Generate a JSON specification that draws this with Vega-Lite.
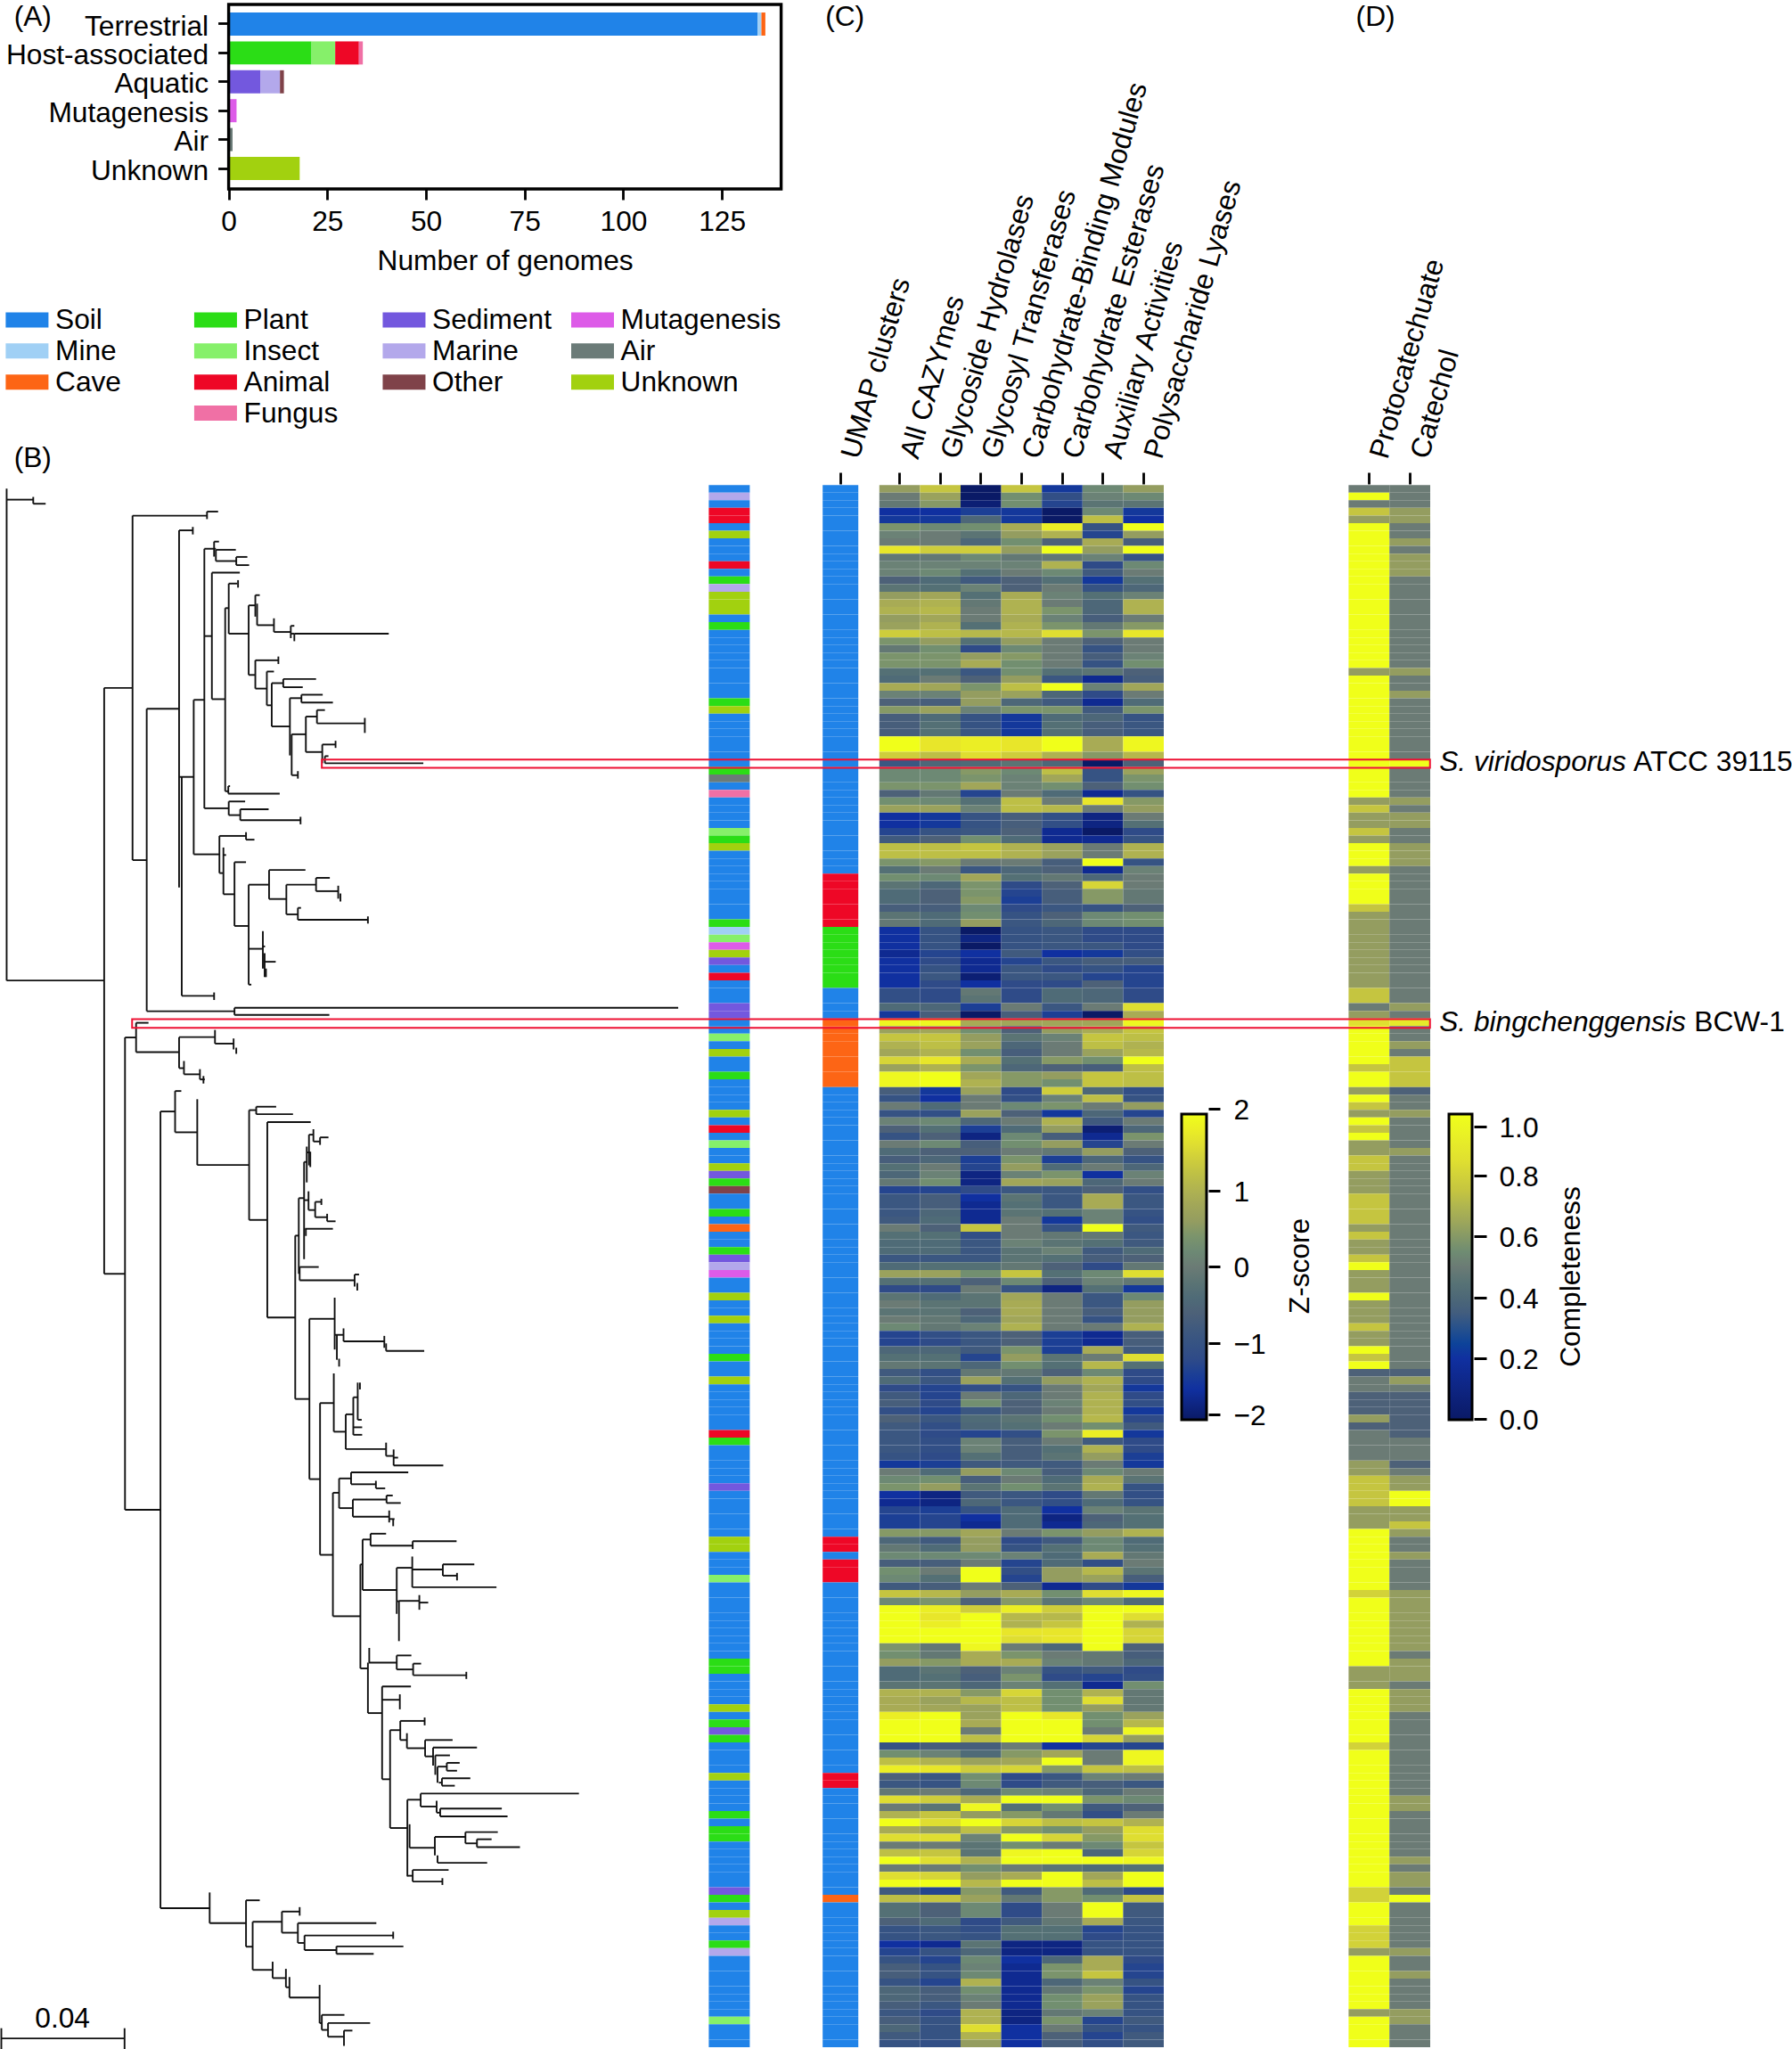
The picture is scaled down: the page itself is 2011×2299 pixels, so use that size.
{"$schema":"https://vega.github.io/schema/vega-lite/v6.json","width":2011,"height":2299,"autosize":{"type":"none"},"padding":0,"background":"white",
"config":{"view":{"stroke":null},"font":"Liberation Sans","axis":{"labelFont":"Liberation Sans","titleFont":"Liberation Sans","labelFontSize":31.7,"titleFontSize":31.7,"titleFontWeight":"normal","labelColor":"black","titleColor":"black","tickColor":"black","domainColor":"black","tickWidth":2.8,"tickSize":12,"grid":false,"labelLimit":1000,"labelOverlap":false,"labelFlush":false,"domain":false}},
"datasets":{
"bars":[{"env":"Terrestrial","src":"Soil","n":134,"k":1},{"env":"Terrestrial","src":"Mine","n":1,"k":2},{"env":"Terrestrial","src":"Cave","n":1,"k":3},{"env":"Host-associated","src":"Plant","n":21,"k":4},{"env":"Host-associated","src":"Insect","n":6,"k":5},{"env":"Host-associated","src":"Animal","n":6,"k":6},{"env":"Host-associated","src":"Fungus","n":1,"k":7},{"env":"Aquatic","src":"Sediment","n":8,"k":8},{"env":"Aquatic","src":"Marine","n":5,"k":9},{"env":"Aquatic","src":"Other","n":1,"k":10},{"env":"Mutagenesis","src":"Mutagenesis","n":2,"k":11},{"env":"Air","src":"Air","n":1,"k":12},{"env":"Unknown","src":"Unknown","n":18,"k":13}],
"key":[{"src":"Soil","col":0,"row":0},{"src":"Mine","col":0,"row":1},{"src":"Cave","col":0,"row":2},{"src":"Plant","col":1,"row":0},{"src":"Insect","col":1,"row":1},{"src":"Animal","col":1,"row":2},{"src":"Fungus","col":1,"row":3},{"src":"Sediment","col":2,"row":0},{"src":"Marine","col":2,"row":1},{"src":"Other","col":2,"row":2},{"src":"Mutagenesis","col":3,"row":0},{"src":"Air","col":3,"row":1},{"src":"Unknown","col":3,"row":2}],
"zt":[{"z":-2},{"z":-1},{"z":0},{"z":1},{"z":2}],
"ct":[{"c":0},{"c":0.2},{"c":0.4},{"c":0.6},{"c":0.8},{"c":1}],
"frame":[{"a":0,"b":1}],
"boxes":[{"x":726,"x2":3226,"y":842,"y2":866},{"x":298,"x2":3226,"y":1603,"y2":1629}],
"notes":[{"t":"(A)","x":74,"y":-1335},{"t":"(B)","x":74,"y":-42},{"t":"(C)","x":1906,"y":-1335},{"t":"(D)","x":3103,"y":-1335},{"t":"0.04","x":141,"y":4535}],
"plain":[{"t":"ATCC 39115","x":3685,"y":850},{"t":"BCW-1","x":3822,"y":1612}],
"ital":[{"t":"S. viridosporus","x":3247,"y":850},{"t":"S. bingchenggensis","x":3247,"y":1612}],
"hs":[{"a":15,"b":75,"y":80},{"a":75,"b":103,"y":92},{"a":15,"b":235,"y":1490},{"a":235,"b":299,"y":632},{"a":299,"b":467,"y":127},{"a":467,"b":492,"y":115},{"a":299,"b":331,"y":1137},{"a":331,"b":404,"y":693},{"a":404,"b":435,"y":170},{"a":404,"b":437,"y":893},{"a":437,"b":461,"y":667},{"a":461,"b":487,"y":224},{"a":483,"b":494,"y":203},{"a":487,"b":532,"y":227},{"a":487,"b":533,"y":260},{"a":533,"b":558,"y":248},{"a":533,"b":562,"y":272},{"a":461,"b":478,"y":480},{"a":478,"b":541,"y":294},{"a":478,"b":508,"y":665},{"a":508,"b":516,"y":398},{"a":516,"b":535,"y":326},{"a":516,"b":561,"y":473},{"a":561,"b":576,"y":390},{"a":576,"b":586,"y":360},{"a":580,"b":618,"y":448},{"a":618,"b":656,"y":468},{"a":656,"b":664,"y":450},{"a":656,"b":664,"y":473},{"a":664,"b":877,"y":473},{"a":561,"b":576,"y":594},{"a":576,"b":628,"y":551},{"a":576,"b":602,"y":634},{"a":602,"b":618,"y":584},{"a":602,"b":613,"y":683},{"a":613,"b":639,"y":618},{"a":639,"b":713,"y":606},{"a":639,"b":683,"y":630},{"a":613,"b":654,"y":745},{"a":654,"b":680,"y":662},{"a":680,"b":728,"y":652},{"a":680,"b":751,"y":675},{"a":658,"b":690,"y":768},{"a":658,"b":672,"y":888},{"a":690,"b":715,"y":716},{"a":715,"b":733,"y":697},{"a":715,"b":823,"y":736},{"a":690,"b":727,"y":820},{"a":727,"b":757,"y":798},{"a":733,"b":741,"y":832},{"a":733,"b":955,"y":853},{"a":508,"b":515,"y":935},{"a":515,"b":519,"y":920},{"a":515,"b":631,"y":942},{"a":461,"b":516,"y":985},{"a":516,"b":553,"y":965},{"a":516,"b":542,"y":1005},{"a":542,"b":606,"y":988},{"a":542,"b":678,"y":1020},{"a":437,"b":495,"y":1120},{"a":495,"b":555,"y":1066},{"a":555,"b":574,"y":1077},{"a":495,"b":503,"y":1175},{"a":504,"b":510,"y":1122},{"a":504,"b":529,"y":1237},{"a":529,"b":555,"y":1143},{"a":529,"b":561,"y":1330},{"a":561,"b":607,"y":1209},{"a":607,"b":689,"y":1166},{"a":607,"b":646,"y":1251},{"a":646,"b":713,"y":1209},{"a":713,"b":744,"y":1189},{"a":713,"b":763,"y":1228},{"a":646,"b":672,"y":1296},{"a":672,"b":679,"y":1277},{"a":672,"b":830,"y":1312},{"a":561,"b":593,"y":1397},{"a":593,"b":598,"y":1390},{"a":595,"b":622,"y":1435},{"a":561,"b":567,"y":1502},{"a":410,"b":483,"y":1535},
{"a":331,"b":529,"y":1580},{"a":529,"b":1530,"y":1570},{"a":529,"b":743,"y":1591},{"a":235,"b":282,"y":2350},{"a":282,"b":307,"y":1657},{"a":307,"b":335,"y":1614},{"a":307,"b":404,"y":1700},{"a":404,"b":485,"y":1656},{"a":485,"b":527,"y":1675},{"a":404,"b":415,"y":1747},{"a":415,"b":451,"y":1765},{"a":451,"b":462,"y":1780},{"a":282,"b":362,"y":3042},{"a":362,"b":395,"y":1874},{"a":395,"b":409,"y":1814},{"a":395,"b":445,"y":1935},{"a":445,"b":562,"y":2031},{"a":562,"b":578,"y":1870},{"a":578,"b":623,"y":1860},{"a":578,"b":661,"y":1882},{"a":562,"b":603,"y":2192},{"a":603,"b":701,"y":1905},{"a":603,"b":666,"y":2478},{"a":666,"b":674,"y":2238},{"a":674,"b":686,"y":2128},{"a":686,"b":693,"y":2022},{"a":697,"b":707,"y":1942},{"a":707,"b":722,"y":1962},{"a":722,"b":741,"y":1950},{"a":692,"b":700,"y":1994},{"a":686,"b":696,"y":2134},{"a":696,"b":711,"y":2163},{"a":711,"b":725,"y":2139},{"a":711,"b":738,"y":2184},{"a":738,"b":757,"y":2196},{"a":688,"b":751,"y":2218},{"a":676,"b":719,"y":2330},{"a":676,"b":800,"y":2369},{"a":800,"b":810,"y":2352},{"a":666,"b":698,"y":2717},{"a":698,"b":755,"y":2482},{"a":755,"b":775,"y":2529},{"a":775,"b":867,"y":2548},{"a":871,"b":957,"y":2576},{"a":698,"b":722,"y":2952},{"a":722,"b":753,"y":2729},{"a":753,"b":780,"y":2813},{"a":780,"b":797,"y":2762},{"a":797,"b":807,"y":2712},{"a":807,"b":816,"y":2778},{"a":797,"b":817,"y":2800},{"a":797,"b":817,"y":2822},{"a":780,"b":871,"y":2864},{"a":871,"b":888,"y":2884},{"a":888,"b":898,"y":2889},{"a":888,"b":1000,"y":2912},{"a":751,"b":765,"y":2992},{"a":765,"b":792,"y":2950},{"a":792,"b":921,"y":2932},{"a":792,"b":848,"y":2967},{"a":848,"b":869,"y":2979},{"a":765,"b":796,"y":3037},{"a":796,"b":872,"y":3012},{"a":872,"b":886,"y":3000},{"a":872,"b":904,"y":3022},{"a":796,"b":878,"y":3062},{"a":878,"b":890,"y":3069},
{"a":722,"b":751,"y":3174},{"a":751,"b":813,"y":3354},{"a":813,"b":818,"y":3202},{"a":818,"b":836,"y":3129},{"a":836,"b":871,"y":3112},{"a":836,"b":931,"y":3147},{"a":931,"b":1030,"y":3134},{"a":818,"b":895,"y":3277},{"a":895,"b":930,"y":3212},{"a":930,"b":999,"y":3217},{"a":999,"b":1070,"y":3202},{"a":999,"b":1031,"y":3235},{"a":930,"b":1120,"y":3269},{"a":895,"b":900,"y":3310},{"a":900,"b":946,"y":3309},{"a":946,"b":966,"y":3314},{"a":813,"b":830,"y":3507},{"a":832,"b":895,"y":3490},{"a":895,"b":928,"y":3469},{"a":895,"b":932,"y":3510},{"a":932,"b":950,"y":3493},{"a":932,"b":1052,"y":3527},{"a":830,"b":862,"y":3638},{"a":862,"b":927,"y":3560},{"a":862,"b":902,"y":3599},{"a":862,"b":880,"y":3832},{"a":880,"b":903,"y":3688},{"a":903,"b":958,"y":3661},{"a":903,"b":918,"y":3717},{"a":918,"b":959,"y":3741},{"a":959,"b":1021,"y":3717},{"a":959,"b":977,"y":3765},{"a":977,"b":1076,"y":3739},{"a":982,"b":1015,"y":3762},{"a":987,"b":1008,"y":3795},{"a":1008,"b":1037,"y":3784},{"a":1008,"b":1031,"y":3807},{"a":990,"b":997,"y":3842},{"a":997,"b":1061,"y":3829},{"a":997,"b":1026,"y":3851},{"a":880,"b":919,"y":3975},{"a":919,"b":949,"y":3892},{"a":949,"b":1306,"y":3874},{"a":949,"b":985,"y":3912},{"a":985,"b":993,"y":3930},{"a":993,"b":1132,"y":3918},{"a":993,"b":1145,"y":3941},{"a":924,"b":981,"y":4033},{"a":981,"b":1050,"y":4001},{"a":1050,"b":1123,"y":3987},{"a":1050,"b":1076,"y":4020},{"a":1076,"b":1109,"y":4008},{"a":1076,"b":1173,"y":4031},{"a":987,"b":1099,"y":4077},{"a":919,"b":931,"y":4115},{"a":931,"b":1012,"y":4098},{"a":931,"b":998,"y":4132},{"a":362,"b":473,"y":4210},{"a":473,"b":555,"y":4254},{"a":555,"b":586,"y":4187},{"a":555,"b":570,"y":4323},{"a":570,"b":636,"y":4250},{"a":636,"b":676,"y":4220},{"a":636,"b":672,"y":4282},{"a":672,"b":849,"y":4254},{"a":672,"b":687,"y":4312},{"a":687,"b":887,"y":4290},{"a":687,"b":759,"y":4333},{"a":759,"b":910,"y":4322},{"a":759,"b":843,"y":4344},{"a":570,"b":615,"y":4391},{"a":615,"b":645,"y":4415},{"a":645,"b":653,"y":4442},{"a":653,"b":721,"y":4472},{"a":721,"b":726,"y":4547},{"a":726,"b":777,"y":4523},{"a":726,"b":740,"y":4567},{"a":740,"b":835,"y":4547},{"a":740,"b":776,"y":4587},{"a":776,"b":795,"y":4569},{"a":3,"b":281,"y":4592}],
"vs":[{"x":15,"c":48,"d":1490},{"x":75,"c":72,"d":92},{"x":235,"c":632,"d":2350},{"x":299,"c":127,"d":1137},{"x":467,"c":115,"d":137},{"x":331,"c":693,"d":1580},{"x":404,"c":170,"d":1217},{"x":435,"c":160,"d":182},{"x":437,"c":667,"d":1120},{"x":410,"c":893,"d":1535},{"x":483,"c":1525,"d":1547},{"x":461,"c":224,"d":985},{"x":483,"c":203,"d":247},{"x":487,"c":227,"d":260},{"x":533,"c":248,"d":272},{"x":478,"c":294,"d":665},{"x":508,"c":398,"d":935},{"x":516,"c":326,"d":473},{"x":537,"c":316,"d":338},{"x":561,"c":390,"d":594},{"x":576,"c":360,"d":423},{"x":580,"c":385,"d":448},{"x":618,"c":428,"d":468},{"x":656,"c":450,"d":486},{"x":664,"c":473,"d":495},{"x":576,"c":551,"d":634},{"x":628,"c":540,"d":562},{"x":602,"c":584,"d":683},{"x":613,"c":618,"d":745},{"x":639,"c":606,"d":630},{"x":654,"c":662,"d":830},{"x":680,"c":652,"d":675},{"x":658,"c":768,"d":888},{"x":672,"c":876,"d":898},{"x":690,"c":716,"d":820},{"x":715,"c":697,"d":736},{"x":823,"c":720,"d":764},{"x":727,"c":798,"d":853},{"x":757,"c":787,"d":808},{"x":733,"c":832,"d":853},{"x":515,"c":920,"d":942},{"x":516,"c":965,"d":1005},{"x":542,"c":988,"d":1020},{"x":678,"c":1010,"d":1032},{"x":495,"c":1066,"d":1175},{"x":555,"c":1055,"d":1077},{"x":504,"c":1100,"d":1237},{"x":529,"c":1143,"d":1330},{"x":561,"c":1209,"d":1502},{"x":607,"c":1166,"d":1251},{"x":646,"c":1209,"d":1296},{"x":713,"c":1189,"d":1228},{"x":763,"c":1212,"d":1250},{"x":768,"c":1235,"d":1258},{"x":672,"c":1277,"d":1312},{"x":830,"c":1302,"d":1323},{"x":593,"c":1345,"d":1455},{"x":597,"c":1410,"d":1480},{"x":600,"c":1455,"d":1480},
{"x":529,"c":1570,"d":1591},{"x":282,"c":1657,"d":3042},{"x":307,"c":1614,"d":1700},{"x":404,"c":1656,"d":1747},{"x":485,"c":1635,"d":1675},{"x":527,"c":1660,"d":1692},{"x":533,"c":1687,"d":1705},{"x":415,"c":1726,"d":1765},{"x":451,"c":1750,"d":1780},{"x":459,"c":1770,"d":1792},{"x":362,"c":1874,"d":4210},{"x":395,"c":1814,"d":1935},{"x":445,"c":1838,"d":2031},{"x":562,"c":1870,"d":2192},{"x":578,"c":1860,"d":1882},{"x":603,"c":1905,"d":2478},{"x":666,"c":2238,"d":2717},{"x":674,"c":2128,"d":2350},{"x":686,"c":2022,"d":2307},{"x":692,"c":1977,"d":2082},{"x":697,"c":1942,"d":2032},{"x":707,"c":1926,"d":1962},{"x":722,"c":1950,"d":1972},{"x":700,"c":1992,"d":2037},{"x":696,"c":2108,"d":2163},{"x":711,"c":2139,"d":2184},{"x":725,"c":2130,"d":2148},{"x":738,"c":2174,"d":2196},{"x":690,"c":2218,"d":2239},{"x":676,"c":2330,"d":2369},{"x":800,"c":2352,"d":2387},{"x":806,"c":2377,"d":2399},{"x":698,"c":2482,"d":2952},{"x":755,"c":2420,"d":2572},{"x":760,"c":2529,"d":2602},{"x":765,"c":2599,"d":2622},{"x":775,"c":2510,"d":2548},{"x":867,"c":2532,"d":2567},{"x":871,"c":2554,"d":2576},{"x":722,"c":2729,"d":3174},{"x":753,"c":2642,"d":2813},{"x":780,"c":2762,"d":2864},{"x":797,"c":2712,"d":2822},{"x":807,"c":2669,"d":2778},{"x":812,"c":2669,"d":2689},{"x":871,"c":2845,"d":2884},{"x":888,"c":2865,"d":2912},{"x":751,"c":2992,"d":3354},{"x":765,"c":2950,"d":3037},{"x":792,"c":2932,"d":2967},{"x":848,"c":2957,"d":2979},{"x":796,"c":3012,"d":3062},{"x":872,"c":3000,"d":3022},{"x":878,"c":3044,"d":3079},{"x":887,"c":3069,"d":3090},
{"x":813,"c":3202,"d":3507},{"x":818,"c":3129,"d":3277},{"x":836,"c":3112,"d":3147},{"x":931,"c":3134,"d":3157},{"x":895,"c":3212,"d":3347},{"x":930,"c":3179,"d":3269},{"x":999,"c":3202,"d":3235},{"x":1031,"c":3227,"d":3249},{"x":900,"c":3309,"d":3427},{"x":946,"c":3292,"d":3335},{"x":830,"c":3490,"d":3638},{"x":833,"c":3447,"d":3490},{"x":895,"c":3469,"d":3510},{"x":932,"c":3493,"d":3527},{"x":1052,"c":3517,"d":3538},{"x":862,"c":3560,"d":3832},{"x":902,"c":3583,"d":3627},{"x":880,"c":3688,"d":3975},{"x":903,"c":3661,"d":3717},{"x":958,"c":3651,"d":3674},{"x":918,"c":3697,"d":3741},{"x":959,"c":3717,"d":3765},{"x":977,"c":3739,"d":3792},{"x":982,"c":3762,"d":3819},{"x":987,"c":3795,"d":3842},{"x":1008,"c":3784,"d":3807},{"x":997,"c":3829,"d":3851},{"x":919,"c":3892,"d":4117},{"x":949,"c":3874,"d":3912},{"x":985,"c":3895,"d":3930},{"x":993,"c":3918,"d":3941},{"x":924,"c":3964,"d":4033},{"x":981,"c":4001,"d":4055},{"x":1050,"c":3987,"d":4020},{"x":1076,"c":4008,"d":4031},{"x":987,"c":4055,"d":4077},{"x":931,"c":4098,"d":4132},{"x":998,"c":4122,"d":4142},{"x":473,"c":4164,"d":4254},{"x":555,"c":4187,"d":4323},{"x":570,"c":4250,"d":4391},{"x":636,"c":4220,"d":4282},{"x":676,"c":4207,"d":4232},{"x":672,"c":4254,"d":4312},{"x":687,"c":4290,"d":4333},{"x":887,"c":4279,"d":4300},{"x":759,"c":4322,"d":4344},{"x":615,"c":4367,"d":4415},{"x":645,"c":4388,"d":4442},{"x":653,"c":4412,"d":4472},{"x":721,"c":4435,"d":4547},{"x":726,"c":4523,"d":4567},{"x":740,"c":4547,"d":4587},{"x":776,"c":4569,"d":4614},{"x":3,"c":4562,"d":4625},{"x":281,"c":4562,"d":4625}],
"rows":[
{"r":0,"s":"Soil","u":"Soil","a":0.6,"b":1.3,"c":-2,"d":1.3,"e":-1.5,"f":0.2,"g":0.6,"p":0.5,"q":0.5},
{"r":1,"s":"Marine","u":"Soil","a":0,"b":0.7,"c":-2,"d":0.3,"e":-1.1,"f":0.1,"g":0.2,"p":1,"q":0.5},
{"r":2,"s":"Soil","u":"Soil","a":-0.1,"b":0.5,"c":-1.9,"d":0.3,"e":-1.3,"f":-0.2,"g":-0.2,"p":0.5,"q":0.5},
{"r":3,"s":"Animal","u":"Soil","a":-1.6,"b":-1.6,"c":-1.4,"d":-1.5,"e":-2,"f":0.2,"g":-1.5,"p":0.75,"q":0.62},
{"r":4,"s":"Animal","u":"Soil","a":-1.5,"b":-1.5,"c":-0.5,"d":-1.5,"e":-2,"f":1.2,"g":-1.6,"p":0.62,"q":0.62},
{"r":5,"s":"Soil","u":"Soil","a":0.4,"b":0.2,"c":0.3,"d":0.9,"e":1.8,"f":-1,"g":2,"p":1,"q":0.5},
{"r":6,"s":"Unknown","u":"Soil","a":0.1,"b":0,"c":-0.2,"d":0.6,"e":1,"f":-1.3,"g":0.6,"p":1,"q":0.5},
{"r":7,"s":"Soil","u":"Soil","a":0,"b":0,"c":-0.5,"d":0.3,"e":-0.6,"f":0.9,"g":-0.7,"p":1,"q":0.62},
{"r":8,"s":"Soil","u":"Soil","a":1.7,"b":1.4,"c":1.4,"d":0.6,"e":2,"f":0.6,"g":2,"p":1,"q":0.5},
{"r":9,"s":"Soil","u":"Soil","a":-0.1,"b":-0.1,"c":0.2,"d":-0.1,"e":-0.1,"f":0.1,"g":-1,"p":1,"q":0.62},
{"r":10,"s":"Animal","u":"Soil","a":0.1,"b":0.1,"c":0.1,"d":0.1,"e":1,"f":-1.2,"g":0.2,"p":1,"q":0.62},
{"r":11,"s":"Soil","u":"Soil","a":0.1,"b":0.2,"c":-0.3,"d":0,"e":0.2,"f":-0.8,"g":0,"p":1,"q":0.62},
{"r":12,"s":"Plant","u":"Soil","a":-0.6,"b":-0.4,"c":-0.8,"d":-0.6,"e":-0.3,"f":-1.5,"g":-0.3,"p":1,"q":0.5},
{"r":13,"s":"Marine","u":"Soil","a":-0.2,"b":-0.3,"c":0.1,"d":-0.6,"e":0,"f":-1,"g":-0.5,"p":1,"q":0.5},
{"r":14,"s":"Unknown","u":"Soil","a":0.6,"b":0.8,"c":-0.3,"d":0.9,"e":0.1,"f":-0.3,"g":0.1,"p":1,"q":0.5},
{"r":15,"s":"Unknown","u":"Soil","a":0.9,"b":1,"c":-0.1,"d":1,"e":0,"f":-0.5,"g":1,"p":1,"q":0.5},
{"r":16,"s":"Unknown","u":"Soil","a":1,"b":1.1,"c":0,"d":1,"e":0.4,"f":-0.5,"g":1,"p":1,"q":0.5},
{"r":17,"s":"Soil","u":"Soil","a":0.6,"b":0.8,"c":0,"d":0.9,"e":0.1,"f":-0.7,"g":0,"p":1,"q":0.5},
{"r":18,"s":"Plant","u":"Soil","a":0.7,"b":1,"c":-0.3,"d":1,"e":0.4,"f":-0.1,"g":0.5,"p":1,"q":0.5},
{"r":19,"s":"Soil","u":"Soil","a":1.4,"b":1.2,"c":1.1,"d":1.1,"e":1.6,"f":0.4,"g":1.7,"p":1,"q":0.5},
{"r":20,"s":"Soil","u":"Soil","a":0.4,"b":0.6,"c":-0.3,"d":0.6,"e":0,"f":-0.6,"g":0,"p":1,"q":0.5},
{"r":21,"s":"Soil","u":"Soil","a":-0.1,"b":0.3,"c":-1.2,"d":0.2,"e":0,"f":-1,"g":0,"p":1,"q":0.5},
{"r":22,"s":"Soil","u":"Soil","a":0.4,"b":0.4,"c":0.6,"d":0.5,"e":0,"f":-0.7,"g":0.1,"p":1,"q":0.5},
{"r":23,"s":"Soil","u":"Soil","a":0.4,"b":0.4,"c":0.9,"d":0.3,"e":0,"f":-1,"g":0.3,"p":1,"q":0.5},
{"r":24,"s":"Soil","u":"Soil","a":-0.3,"b":-0.3,"c":-0.9,"d":0.3,"e":-0.3,"f":-0.2,"g":-0.6,"p":0.62,"q":0.62},
{"r":25,"s":"Soil","u":"Soil","a":-0.4,"b":0,"c":-0.6,"d":0.6,"e":-0.9,"f":-1.7,"g":-0.7,"p":1,"q":0.5},
{"r":26,"s":"Soil","u":"Soil","a":0.9,"b":0.8,"c":0.4,"d":1.2,"e":2,"f":0.1,"g":0.8,"p":1,"q":0.5},
{"r":27,"s":"Soil","u":"Soil","a":0.1,"b":0.1,"c":0.6,"d":0.7,"e":-0.5,"f":-1.2,"g":0,"p":1,"q":0.62},
{"r":28,"s":"Plant","u":"Soil","a":-0.6,"b":-0.7,"c":0.6,"d":-0.5,"e":-0.8,"f":-1.7,"g":-0.4,"p":1,"q":0.5},
{"r":29,"s":"Unknown","u":"Soil","a":0.5,"b":0.7,"c":0.1,"d":0.4,"e":0.4,"f":-0.8,"g":0.4,"p":1,"q":0.5},
{"r":30,"s":"Soil","u":"Soil","a":-0.7,"b":-0.4,"c":-1,"d":-1.5,"e":-0.4,"f":-0.5,"g":-1,"p":1,"q":0.5},
{"r":31,"s":"Soil","u":"Soil","a":-0.7,"b":-0.3,"c":-1,"d":-1.5,"e":-0.3,"f":-0.7,"g":-0.9,"p":1,"q":0.5},
{"r":32,"s":"Soil","u":"Soil","a":-0.7,"b":-0.3,"c":-0.9,"d":-1.5,"e":-0.3,"f":-0.7,"g":-0.9,"p":1,"q":0.5},
{"r":33,"s":"Soil","u":"Soil","a":2,"b":1.7,"c":1.8,"d":1.7,"e":2,"f":0.9,"g":1.9,"p":1,"q":0.5},
{"r":34,"s":"Soil","u":"Soil","a":2,"b":1.7,"c":1.8,"d":1.7,"e":2,"f":0.9,"g":1.9,"p":1,"q":0.5},
{"r":35,"s":"Soil","u":"Soil","a":1.4,"b":1.2,"c":1.6,"d":1.4,"e":1,"f":0.5,"g":1.1,"p":1,"q":0.5},
{"r":36,"s":"Soil","u":"Soil","a":-0.9,"b":-0.5,"c":-0.4,"d":-0.2,"e":-0.5,"f":-2,"g":-0.6,"p":1,"q":1},
{"r":37,"s":"Plant","u":"Soil","a":0.2,"b":0.2,"c":0.5,"d":0.2,"e":1.2,"f":-1,"g":0.7,"p":1,"q":0.5},
{"r":38,"s":"Air","u":"Soil","a":0.2,"b":0.2,"c":0.4,"d":0.1,"e":0.8,"f":-1,"g":0.4,"p":1,"q":0.5},
{"r":39,"s":"Soil","u":"Soil","a":0.4,"b":0.4,"c":0.8,"d":0.1,"e":0.3,"f":-0.6,"g":0.3,"p":1,"q":0.5},
{"r":40,"s":"Fungus","u":"Soil","a":-0.6,"b":-0.1,"c":-1.3,"d":0,"e":-0.4,"f":-1.7,"g":-1,"p":1,"q":0.5},
{"r":41,"s":"Soil","u":"Soil","a":0.3,"b":0.2,"c":-0.3,"d":1.2,"e":0,"f":1.7,"g":0.5,"p":0.62,"q":0.62},
{"r":42,"s":"Soil","u":"Soil","a":0.7,"b":0.7,"c":0.1,"d":1.2,"e":1.1,"f":0,"g":0.6,"p":0.75,"q":0.5},
{"r":43,"s":"Soil","u":"Soil","a":-1.6,"b":-1.5,"c":-1,"d":-0.7,"e":-1.1,"f":-1.8,"g":0,"p":0.62,"q":0.62},
{"r":44,"s":"Soil","u":"Soil","a":-1.6,"b":-1.5,"c":-1,"d":-0.7,"e":-1.1,"f":-1.8,"g":-0.3,"p":0.62,"q":0.62},
{"r":45,"s":"Insect","u":"Soil","a":-1.3,"b":-1,"c":-0.9,"d":-0.6,"e":-1.7,"f":-2,"g":-1.2,"p":0.75,"q":0.5},
{"r":46,"s":"Plant","u":"Soil","a":-0.8,"b":-0.6,"c":0.3,"d":-0.4,"e":-1.7,"f":-1.7,"g":-1,"p":0.62,"q":0.5},
{"r":47,"s":"Unknown","u":"Soil","a":1.2,"b":1.2,"c":1.3,"d":1,"e":0.7,"f":0,"g":1,"p":1,"q":0.62},
{"r":48,"s":"Soil","u":"Soil","a":1.2,"b":1.2,"c":1.2,"d":1,"e":0.7,"f":0,"g":1,"p":1,"q":0.62},
{"r":49,"s":"Soil","u":"Soil","a":0.4,"b":0.5,"c":0,"d":0,"e":-0.7,"f":2,"g":-1,"p":1,"q":0.62},
{"r":50,"s":"Soil","u":"Soil","a":-0.3,"b":0,"c":-0.9,"d":-0.5,"e":-0.6,"f":-1.7,"g":0.1,"p":0.62,"q":0.5},
{"r":51,"s":"Soil","u":"Animal","a":0.3,"b":0.2,"c":0.8,"d":-0.3,"e":-0.1,"f":-0.5,"g":0,"p":1,"q":0.5},
{"r":52,"s":"Soil","u":"Animal","a":-0.2,"b":-0.5,"c":0.4,"d":-1.2,"e":-0.6,"f":1.5,"g":0,"p":1,"q":0.5},
{"r":53,"s":"Soil","u":"Animal","a":-0.4,"b":-0.6,"c":0.4,"d":-1.3,"e":-0.7,"f":0.5,"g":-0.1,"p":1,"q":0.5},
{"r":54,"s":"Soil","u":"Animal","a":-0.4,"b":-0.6,"c":0.5,"d":-1.4,"e":-0.7,"f":0.5,"g":-0.1,"p":1,"q":0.5},
{"r":55,"s":"Soil","u":"Animal","a":-0.7,"b":-0.7,"c":0.2,"d":-1.2,"e":-0.9,"f":-1,"g":-0.6,"p":0.75,"q":0.5},
{"r":56,"s":"Soil","u":"Animal","a":-0.2,"b":-0.4,"c":0.3,"d":-1,"e":-0.6,"f":0.2,"g":0.3,"p":0.62,"q":0.5},
{"r":57,"s":"Plant","u":"Animal","a":-0.1,"b":-0.4,"c":0.6,"d":-0.9,"e":-0.5,"f":0.2,"g":0.3,"p":0.62,"q":0.5},
{"r":58,"s":"Mine","u":"Plant","a":-1.6,"b":-1,"c":-2,"d":-1,"e":-0.9,"f":-1.2,"g":-1.2,"p":0.62,"q":0.5},
{"r":59,"s":"Insect","u":"Plant","a":-1.6,"b":-1,"c":-1.8,"d":-1,"e":-0.9,"f":-1.2,"g":-1.2,"p":0.62,"q":0.5},
{"r":60,"s":"Mutagenesis","u":"Plant","a":-1.6,"b":-1,"c":-2,"d":-1,"e":-0.9,"f":-0.9,"g":-1.2,"p":0.62,"q":0.5},
{"r":61,"s":"Unknown","u":"Plant","a":-1.7,"b":-1.3,"c":-1.6,"d":-0.8,"e":-1.6,"f":-1.5,"g":-1.1,"p":0.62,"q":0.5},
{"r":62,"s":"Sediment","u":"Plant","a":-1.6,"b":-1.2,"c":-1.7,"d":-1.3,"e":-0.9,"f":-0.7,"g":-0.7,"p":0.62,"q":0.5},
{"r":63,"s":"Soil","u":"Plant","a":-1.6,"b":-1,"c":-1.7,"d":-0.9,"e":-1.2,"f":-1,"g":-1.3,"p":0.62,"q":0.5},
{"r":64,"s":"Animal","u":"Plant","a":-1.6,"b":-0.9,"c":-1.9,"d":-0.9,"e":-0.9,"f":-1.3,"g":-1.3,"p":0.62,"q":0.5},
{"r":65,"s":"Soil","u":"Plant","a":-1.6,"b":-1.2,"c":-1.6,"d":-1.2,"e":-1.2,"f":-0.6,"g":-1.3,"p":0.62,"q":0.5},
{"r":66,"s":"Soil","u":"Soil","a":-1.1,"b":-1.2,"c":-0.1,"d":-1.2,"e":-0.4,"f":-0.5,"g":-1.2,"p":0.75,"q":0.5},
{"r":67,"s":"Soil","u":"Soil","a":-1.1,"b":-1.2,"c":-0.2,"d":-1.2,"e":-0.4,"f":-0.5,"g":-1.2,"p":0.75,"q":0.5},
{"r":68,"s":"Sediment","u":"Soil","a":-0.4,"b":-0.5,"c":-1.4,"d":0,"e":-0.9,"f":0,"g":1.6,"p":0.5,"q":0.62},
{"r":69,"s":"Sediment","u":"Soil","a":-1.5,"b":-0.7,"c":-2,"d":-0.7,"e":-1.4,"f":-2,"g":0.9,"p":0.62,"q":0.5},
{"r":70,"s":"Soil","u":"Cave","a":1.9,"b":1.9,"c":0.9,"d":0.8,"e":0.8,"f":0.8,"g":1.9,"p":0.85,"q":0.9},
{"r":71,"s":"Soil","u":"Cave","a":0.7,"b":0.8,"c":0.3,"d":-0.6,"e":0.6,"f":0.9,"g":1.3,"p":1,"q":0.5},
{"r":72,"s":"Insect","u":"Cave","a":1.3,"b":1.3,"c":0.6,"d":-0.2,"e":0.1,"f":1.3,"g":1.2,"p":1,"q":0.5},
{"r":73,"s":"Soil","u":"Cave","a":1,"b":1.2,"c":0.7,"d":-0.5,"e":0,"f":1.2,"g":1,"p":1,"q":0.62},
{"r":74,"s":"Unknown","u":"Cave","a":0.8,"b":1,"c":0.3,"d":-0.7,"e":0,"f":0.7,"g":1.1,"p":1,"q":0.5},
{"r":75,"s":"Soil","u":"Cave","a":1.5,"b":1.7,"c":0.9,"d":-0.3,"e":0.5,"f":0.3,"g":2,"p":1,"q":0.75},
{"r":76,"s":"Soil","u":"Cave","a":0.7,"b":1,"c":0.4,"d":-0.5,"e":-0.6,"f":-0.7,"g":1.2,"p":0.75,"q":0.75},
{"r":77,"s":"Plant","u":"Cave","a":1.9,"b":2,"c":0.8,"d":0.5,"e":0.6,"f":1.3,"g":1.2,"p":1,"q":0.75},
{"r":78,"s":"Soil","u":"Cave","a":1.9,"b":2,"c":1,"d":0.5,"e":0.3,"f":1.3,"g":1.2,"p":1,"q":0.75},
{"r":79,"s":"Soil","u":"Soil","a":-0.7,"b":-1.5,"c":0.7,"d":-1.2,"e":1.4,"f":-0.5,"g":-1.1,"p":0.62,"q":0.37},
{"r":80,"s":"Soil","u":"Soil","a":-1,"b":-1.6,"c":0,"d":-1.1,"e":0.1,"f":1.2,"g":-1,"p":1,"q":0.5},
{"r":81,"s":"Soil","u":"Soil","a":0,"b":-0.4,"c":0,"d":0.2,"e":0.4,"f":0,"g":0.6,"p":0.75,"q":0.5},
{"r":82,"s":"Unknown","u":"Soil","a":-1,"b":-1.1,"c":0.7,"d":-0.6,"e":-1.5,"f":-0.5,"g":-1.3,"p":0.62,"q":0.62},
{"r":83,"s":"Soil","u":"Soil","a":0.1,"b":0.2,"c":-0.5,"d":0,"e":1,"f":-0.8,"g":0,"p":1,"q":0.5},
{"r":84,"s":"Animal","u":"Soil","a":-0.6,"b":-0.3,"c":-1.4,"d":-0.4,"e":0.6,"f":-1.9,"g":-0.5,"p":0.75,"q":0.5},
{"r":85,"s":"Soil","u":"Soil","a":-1,"b":-0.6,"c":-1.8,"d":0.2,"e":-0.7,"f":-1.7,"g":0.4,"p":1,"q":0.5},
{"r":86,"s":"Insect","u":"Soil","a":0,"b":0.2,"c":-0.7,"d":0.3,"e":0.6,"f":-1.3,"g":0,"p":0.62,"q":0.5},
{"r":87,"s":"Soil","u":"Soil","a":-0.4,"b":-0.6,"c":-0.6,"d":0,"e":-0.1,"f":0.6,"g":-0.6,"p":0.62,"q":0.62},
{"r":88,"s":"Soil","u":"Soil","a":-0.7,"b":-0.5,"c":-1.4,"d":0.4,"e":-1.4,"f":-0.5,"g":-1,"p":0.75,"q":0.5},
{"r":89,"s":"Unknown","u":"Soil","a":-0.3,"b":0,"c":-1.3,"d":0.6,"e":-0.4,"f":0,"g":-0.5,"p":0.75,"q":0.5},
{"r":90,"s":"Sediment","u":"Soil","a":-0.5,"b":0.1,"c":-1.8,"d":0.1,"e":0.4,"f":-1.6,"g":0.1,"p":0.62,"q":0.5},
{"r":91,"s":"Plant","u":"Soil","a":-0.1,"b":0.3,"c":-1.8,"d":0.8,"e":0.7,"f":-0.5,"g":0,"p":0.62,"q":0.5},
{"r":92,"s":"Other","u":"Soil","a":-1.3,"b":-1.3,"c":-1.2,"d":-0.9,"e":-0.9,"f":-0.6,"g":-1.1,"p":0.62,"q":0.5},
{"r":93,"s":"Soil","u":"Soil","a":-0.9,"b":-0.7,"c":-1.6,"d":-0.2,"e":-0.9,"f":0.9,"g":-0.9,"p":0.75,"q":0.5},
{"r":94,"s":"Soil","u":"Soil","a":-0.9,"b":-0.7,"c":-1.7,"d":-0.3,"e":-0.9,"f":0.9,"g":-0.9,"p":0.75,"q":0.5},
{"r":95,"s":"Plant","u":"Soil","a":-0.9,"b":-0.5,"c":-1.7,"d":-0.2,"e":-0.3,"f":0.1,"g":-1,"p":0.75,"q":0.5},
{"r":96,"s":"Soil","u":"Soil","a":-0.8,"b":-0.4,"c":-1.7,"d":0,"e":-1.5,"f":0.1,"g":-1.1,"p":0.75,"q":0.5},
{"r":97,"s":"Cave","u":"Soil","a":0,"b":-0.6,"c":1.3,"d":0,"e":-1,"f":2,"g":-0.8,"p":0.62,"q":0.5},
{"r":98,"s":"Soil","u":"Soil","a":-0.3,"b":-0.3,"c":-1.1,"d":0,"e":-0.1,"f":-0.1,"g":-0.9,"p":0.75,"q":0.5},
{"r":99,"s":"Soil","u":"Soil","a":-0.4,"b":-0.4,"c":-0.9,"d":0.1,"e":-0.2,"f":-0.3,"g":-0.8,"p":0.62,"q":0.5},
{"r":100,"s":"Plant","u":"Soil","a":-0.4,"b":-0.4,"c":-0.9,"d":-0.2,"e":0.1,"f":-0.8,"g":-0.4,"p":0.62,"q":0.5},
{"r":101,"s":"Sediment","u":"Soil","a":-0.9,"b":-0.9,"c":-0.9,"d":-0.2,"e":-0.3,"f":-0.7,"g":-0.6,"p":0.75,"q":0.5},
{"r":102,"s":"Marine","u":"Soil","a":-0.4,"b":-0.3,"c":-0.3,"d":-0.1,"e":-0.6,"f":-1.2,"g":-0.1,"p":1,"q":0.5},
{"r":103,"s":"Mutagenesis","u":"Soil","a":0.7,"b":0.7,"c":0.3,"d":1.3,"e":-0.3,"f":0.2,"g":1.6,"p":0.62,"q":0.5},
{"r":104,"s":"Soil","u":"Soil","a":-0.3,"b":-0.3,"c":-0.6,"d":0.2,"e":-0.6,"f":0.1,"g":-0.1,"p":0.62,"q":0.5},
{"r":105,"s":"Soil","u":"Soil","a":-1.2,"b":-1.2,"c":0,"d":-1,"e":-1.8,"f":-0.3,"g":-1.5,"p":0.62,"q":0.5},
{"r":106,"s":"Unknown","u":"Soil","a":-0.2,"b":-0.4,"c":-0.2,"d":0.8,"e":0,"f":-0.9,"g":0.2,"p":1,"q":0.5},
{"r":107,"s":"Soil","u":"Soil","a":0,"b":-0.2,"c":-0.2,"d":0.9,"e":0,"f":-0.9,"g":0.6,"p":0.62,"q":0.5},
{"r":108,"s":"Soil","u":"Soil","a":-0.2,"b":-0.2,"c":-0.6,"d":0.9,"e":0,"f":-0.7,"g":0.6,"p":0.62,"q":0.5},
{"r":109,"s":"Unknown","u":"Soil","a":0,"b":-0.1,"c":-0.5,"d":0.8,"e":0,"f":-1,"g":0.6,"p":0.62,"q":0.5},
{"r":110,"s":"Soil","u":"Soil","a":0.2,"b":-0.1,"c":0.1,"d":1,"e":0,"f":0,"g":1,"p":0.75,"q":0.5},
{"r":111,"s":"Soil","u":"Soil","a":-1.3,"b":-1.1,"c":-0.9,"d":-0.6,"e":-1.4,"f":-1.7,"g":-0.7,"p":0.62,"q":0.5},
{"r":112,"s":"Soil","u":"Soil","a":-1.3,"b":-1.2,"c":-0.9,"d":-0.6,"e":-1.4,"f":-1.7,"g":-0.7,"p":0.62,"q":0.5},
{"r":113,"s":"Soil","u":"Soil","a":-0.5,"b":-0.5,"c":-0.8,"d":0.4,"e":-1.4,"f":0.9,"g":-0.8,"p":1,"q":0.5},
{"r":114,"s":"Plant","u":"Soil","a":-0.3,"b":-0.3,"c":-1.3,"d":0.6,"e":-0.2,"f":0,"g":1.6,"p":0.75,"q":0.5},
{"r":115,"s":"Soil","u":"Soil","a":-0.1,"b":-0.2,"c":-0.5,"d":0.3,"e":-0.3,"f":1.1,"g":-0.3,"p":1,"q":0.5},
{"r":116,"s":"Soil","u":"Soil","a":-0.8,"b":-1.1,"c":-0.1,"d":-0.1,"e":-0.6,"f":0.2,"g":-1.2,"p":0.37,"q":0.37},
{"r":117,"s":"Unknown","u":"Soil","a":-0.4,"b":-0.9,"c":0.7,"d":-0.3,"e":0.6,"f":1,"g":-1.2,"p":0.5,"q":0.62},
{"r":118,"s":"Soil","u":"Soil","a":-1.2,"b":-1.3,"c":-1.1,"d":-1,"e":0,"f":0.8,"g":-1.5,"p":0.5,"q":0.5},
{"r":119,"s":"Soil","u":"Soil","a":-0.8,"b":-1.3,"c":0,"d":-0.5,"e":0,"f":1,"g":-1.2,"p":0.37,"q":0.37},
{"r":120,"s":"Soil","u":"Soil","a":-0.7,"b":-1.2,"c":0.3,"d":-0.6,"e":0.1,"f":1,"g":-1.1,"p":0.37,"q":0.37},
{"r":121,"s":"Soil","u":"Soil","a":-1.1,"b":-1.3,"c":-0.9,"d":-0.6,"e":0,"f":1,"g":-1.5,"p":0.37,"q":0.37},
{"r":122,"s":"Soil","u":"Soil","a":-0.6,"b":-0.9,"c":-0.4,"d":-0.2,"e":0.3,"f":1.1,"g":-1.2,"p":0.62,"q":0.37},
{"r":123,"s":"Soil","u":"Soil","a":-0.8,"b":-1.1,"c":-0.5,"d":-0.3,"e":0,"f":0.3,"g":-0.8,"p":0.37,"q":0.37},
{"r":124,"s":"Animal","u":"Soil","a":-0.9,"b":-1.2,"c":-1.3,"d":-1.1,"e":0.4,"f":1.8,"g":-1.5,"p":0.5,"q":0.37},
{"r":125,"s":"Plant","u":"Soil","a":-0.9,"b":-1.1,"c":0.1,"d":-0.7,"e":0,"f":-0.8,"g":-1.2,"p":0.5,"q":0.5},
{"r":126,"s":"Soil","u":"Soil","a":-0.9,"b":-1.1,"c":0.1,"d":-0.7,"e":-0.3,"f":1,"g":-1.2,"p":0.5,"q":0.5},
{"r":127,"s":"Soil","u":"Soil","a":-1,"b":-1.2,"c":-0.3,"d":-0.7,"e":-0.2,"f":0.6,"g":-1.4,"p":0.5,"q":0.5},
{"r":128,"s":"Soil","u":"Soil","a":-1.5,"b":-1.4,"c":-0.8,"d":-0.8,"e":-0.8,"f":0,"g":-1.5,"p":0.62,"q":0.37},
{"r":129,"s":"Soil","u":"Soil","a":0,"b":-0.4,"c":0.6,"d":0.2,"e":-0.7,"f":0.2,"g":0,"p":0.62,"q":0.5},
{"r":130,"s":"Soil","u":"Soil","a":0.2,"b":0.3,"c":-0.7,"d":0,"e":-0.4,"f":0.9,"g":-0.2,"p":0.75,"q":0.62},
{"r":131,"s":"Sediment","u":"Soil","a":0.4,"b":0.6,"c":-0.2,"d":0.3,"e":-0.2,"f":1,"g":-1,"p":0.75,"q":0.62},
{"r":132,"s":"Soil","u":"Soil","a":-1.6,"b":-1.8,"c":-0.8,"d":-0.9,"e":-1.2,"f":-0.1,"g":-1.1,"p":0.75,"q":1},
{"r":133,"s":"Soil","u":"Soil","a":-1.7,"b":-1.8,"c":-0.5,"d":-0.9,"e":-1.1,"f":-0.4,"g":-1,"p":0.75,"q":1},
{"r":134,"s":"Soil","u":"Soil","a":-1.3,"b":-1.4,"c":-1,"d":-0.4,"e":-1.6,"f":0.1,"g":-0.2,"p":0.62,"q":0.62},
{"r":135,"s":"Soil","u":"Soil","a":-1.4,"b":-1.3,"c":-1.6,"d":-0.4,"e":-1.8,"f":-0.6,"g":-0.3,"p":0.62,"q":0.62},
{"r":136,"s":"Soil","u":"Soil","a":-1.4,"b":-1.3,"c":-1.7,"d":-0.4,"e":-1.7,"f":-0.5,"g":-0.3,"p":0.62,"q":0.75},
{"r":137,"s":"Soil","u":"Soil","a":0.5,"b":0.5,"c":0.8,"d":0,"e":0.4,"f":0.6,"g":1,"p":1,"q":0.62},
{"r":138,"s":"Unknown","u":"Animal","a":-0.5,"b":-0.8,"c":0.6,"d":-1.2,"e":-0.8,"f":0.2,"g":-0.4,"p":1,"q":0.5},
{"r":139,"s":"Unknown","u":"Animal","a":-0.1,"b":-0.4,"c":0.6,"d":-1,"e":-0.3,"f":0.2,"g":-0.3,"p":1,"q":0.5},
{"r":140,"s":"Soil","u":"Soil","a":0.2,"b":0.2,"c":0.2,"d":0.1,"e":-0.4,"f":0.9,"g":-0.1,"p":1,"q":0.62},
{"r":141,"s":"Soil","u":"Animal","a":-0.7,"b":-0.7,"c":0,"d":-1.3,"e":-0.4,"f":-1.1,"g":0,"p":1,"q":0.5},
{"r":142,"s":"Soil","u":"Animal","a":0.3,"b":0,"c":2,"d":-1.1,"e":0.6,"f":1.1,"g":-0.2,"p":1,"q":0.5},
{"r":143,"s":"Insect","u":"Animal","a":0.2,"b":-0.3,"c":2,"d":-1.3,"e":0.6,"f":0.7,"g":-0.7,"p":1,"q":0.5},
{"r":144,"s":"Soil","u":"Soil","a":-0.8,"b":-0.7,"c":0,"d":-0.6,"e":-1.7,"f":-1.2,"g":-1.5,"p":1,"q":0.5},
{"r":145,"s":"Soil","u":"Soil","a":1.3,"b":1.1,"c":0.6,"d":0.9,"e":0.3,"f":1.6,"g":1.9,"p":0.8,"q":0.62},
{"r":146,"s":"Soil","u":"Soil","a":0.2,"b":0.4,"c":-0.6,"d":0.5,"e":-0.2,"f":0.2,"g":-0.4,"p":1,"q":0.62},
{"r":147,"s":"Soil","u":"Soil","a":2,"b":1.8,"c":1.4,"d":1.8,"e":1.4,"f":2,"g":2,"p":1,"q":0.62},
{"r":148,"s":"Soil","u":"Soil","a":2,"b":1.7,"c":2,"d":1.1,"e":1.1,"f":2,"g":1.6,"p":1,"q":0.62},
{"r":149,"s":"Soil","u":"Soil","a":2,"b":1.8,"c":2,"d":1,"e":1.3,"f":2,"g":1,"p":1,"q":0.62},
{"r":150,"s":"Soil","u":"Soil","a":2,"b":2,"c":2,"d":1.7,"e":1.7,"f":2,"g":1.5,"p":1,"q":0.62},
{"r":151,"s":"Soil","u":"Soil","a":2,"b":2,"c":2,"d":1.6,"e":1.7,"f":2,"g":1.5,"p":1,"q":0.62},
{"r":152,"s":"Soil","u":"Soil","a":0.4,"b":-0.1,"c":1.9,"d":0,"e":-0.5,"f":2,"g":-0.6,"p":1,"q":0.62},
{"r":153,"s":"Soil","u":"Soil","a":0.3,"b":-0.1,"c":0.9,"d":0.4,"e":0,"f":-0.1,"g":-0.7,"p":1,"q":0.5},
{"r":154,"s":"Plant","u":"Soil","a":0.6,"b":0.5,"c":0.9,"d":0.9,"e":0.1,"f":-0.1,"g":-0.5,"p":1,"q":0.62},
{"r":155,"s":"Plant","u":"Soil","a":-0.4,"b":-0.2,"c":-0.6,"d":0.1,"e":-1,"f":-0.8,"g":-1.2,"p":0.62,"q":0.62},
{"r":156,"s":"Soil","u":"Soil","a":-0.4,"b":-0.3,"c":-0.7,"d":0.4,"e":-1.2,"f":-1.3,"g":-1.1,"p":0.62,"q":0.62},
{"r":157,"s":"Soil","u":"Soil","a":-0.2,"b":-0.2,"c":-0.5,"d":0.1,"e":-0.3,"f":-1.7,"g":0.3,"p":0.62,"q":0.5},
{"r":158,"s":"Soil","u":"Soil","a":1,"b":1,"c":0.5,"d":1.5,"e":0.3,"f":1,"g":-0.1,"p":1,"q":0.62},
{"r":159,"s":"Soil","u":"Soil","a":0.9,"b":0.7,"c":1.1,"d":1.2,"e":0.3,"f":1.6,"g":-0.1,"p":1,"q":0.62},
{"r":160,"s":"Unknown","u":"Soil","a":0.9,"b":0.8,"c":0.7,"d":1.2,"e":0.3,"f":0.6,"g":-0.1,"p":1,"q":0.62},
{"r":161,"s":"Soil","u":"Soil","a":1.8,"b":2,"c":0.7,"d":2,"e":1.7,"f":0.3,"g":0.7,"p":1,"q":0.5},
{"r":162,"s":"Plant","u":"Soil","a":2,"b":2,"c":0.9,"d":2,"e":2,"f":0.3,"g":1.1,"p":1,"q":0.5},
{"r":163,"s":"Sediment","u":"Soil","a":2,"b":2,"c":0,"d":2,"e":2,"f":0,"g":1.9,"p":1,"q":0.5},
{"r":164,"s":"Plant","u":"Soil","a":2,"b":2,"c":1.2,"d":2,"e":2,"f":1.5,"g":0.6,"p":1,"q":0.5},
{"r":165,"s":"Soil","u":"Soil","a":-1,"b":-0.7,"c":-0.7,"d":0,"e":-1.6,"f":-1.3,"g":-1.3,"p":0.8,"q":0.5},
{"r":166,"s":"Soil","u":"Soil","a":0.3,"b":0.1,"c":-0.4,"d":0.5,"e":0.8,"f":0,"g":1.9,"p":1,"q":0.5},
{"r":167,"s":"Soil","u":"Soil","a":1.2,"b":1,"c":0.7,"d":0.8,"e":2,"f":0,"g":1.9,"p":1,"q":0.5},
{"r":168,"s":"Soil","u":"Soil","a":1.8,"b":1.7,"c":1.4,"d":1.5,"e":0.5,"f":1.3,"g":1.2,"p":1,"q":0.5},
{"r":169,"s":"Unknown","u":"Animal","a":-0.6,"b":-0.9,"c":0.3,"d":-1.2,"e":-0.9,"f":0.1,"g":0,"p":1,"q":0.5},
{"r":170,"s":"Soil","u":"Animal","a":-0.9,"b":-1,"c":0.2,"d":-1.2,"e":-0.8,"f":-0.7,"g":-0.9,"p":1,"q":0.5},
{"r":171,"s":"Soil","u":"Soil","a":-0.1,"b":0,"c":-0.5,"d":0.2,"e":0.1,"f":-0.5,"g":0,"p":1,"q":0.5},
{"r":172,"s":"Soil","u":"Soil","a":1.6,"b":1.4,"c":0.9,"d":2,"e":2,"f":0.4,"g":0.2,"p":1,"q":0.62},
{"r":173,"s":"Soil","u":"Soil","a":0,"b":-0.2,"c":1.9,"d":-0.3,"e":0.3,"f":-0.8,"g":-0.6,"p":1,"q":0.62},
{"r":174,"s":"Plant","u":"Soil","a":1,"b":1.3,"c":0.6,"d":0.5,"e":-0.1,"f":-1.1,"g":0,"p":1,"q":0.5},
{"r":175,"s":"Soil","u":"Soil","a":2,"b":1.6,"c":2,"d":1.5,"e":1.2,"f":1.3,"g":1,"p":1,"q":0.5},
{"r":176,"s":"Plant","u":"Soil","a":0.9,"b":0.6,"c":1.2,"d":0.5,"e":0.3,"f":0.6,"g":1.6,"p":1,"q":0.5},
{"r":177,"s":"Plant","u":"Soil","a":1.6,"b":1.6,"c":0.1,"d":2,"e":1.5,"f":0.5,"g":1.6,"p":1,"q":0.5},
{"r":178,"s":"Soil","u":"Soil","a":0,"b":0,"c":-0.2,"d":0.3,"e":0,"f":0.2,"g":1.3,"p":1,"q":0.5},
{"r":179,"s":"Soil","u":"Soil","a":1.2,"b":1.3,"c":-0.2,"d":1.9,"e":2,"f":-0.5,"g":1.5,"p":1,"q":0.5},
{"r":180,"s":"Soil","u":"Soil","a":2,"b":1.6,"c":1,"d":2,"e":2,"f":2,"g":1.9,"p":1,"q":0.62},
{"r":181,"s":"Soil","u":"Soil","a":0,"b":0,"c":0.3,"d":0,"e":-0.2,"f":-0.4,"g":-0.3,"p":1,"q":0.5},
{"r":182,"s":"Soil","u":"Soil","a":1.6,"b":1.5,"c":0.6,"d":0.9,"e":2,"f":0.8,"g":2,"p":1,"q":0.62},
{"r":183,"s":"Soil","u":"Soil","a":2,"b":2,"c":1.1,"d":2,"e":2,"f":1.2,"g":2,"p":1,"q":0.62},
{"r":184,"s":"Sediment","u":"Soil","a":-0.8,"b":-1.3,"c":0.5,"d":-0.8,"e":0.5,"f":-0.4,"g":-1.2,"p":0.8,"q":0.5},
{"r":185,"s":"Plant","u":"Cave","a":1.2,"b":1.3,"c":0.7,"d":-0.1,"e":0.5,"f":0.3,"g":1.3,"p":0.8,"q":1},
{"r":186,"s":"Soil","u":"Soil","a":-0.3,"b":-0.6,"c":0.2,"d":-1.2,"e":0,"f":2,"g":-0.8,"p":1,"q":0.5},
{"r":187,"s":"Unknown","u":"Soil","a":-0.3,"b":-0.6,"c":0.2,"d":-1.2,"e":0,"f":2,"g":-0.8,"p":1,"q":0.5},
{"r":188,"s":"Marine","u":"Soil","a":-0.6,"b":-0.4,"c":-1.2,"d":-0.8,"e":-0.1,"f":0.9,"g":-0.9,"p":1,"q":0.5},
{"r":189,"s":"Soil","u":"Soil","a":-1,"b":-0.9,"c":-1.1,"d":-0.3,"e":-0.3,"f":-1.3,"g":-1,"p":0.8,"q":0.5},
{"r":190,"s":"Soil","u":"Soil","a":-1,"b":-0.9,"c":-1,"d":-0.3,"e":-0.3,"f":-1.2,"g":-1,"p":0.8,"q":0.5},
{"r":191,"s":"Plant","u":"Soil","a":-1.6,"b":-1.7,"c":-0.2,"d":-1.8,"e":-1.8,"f":-1,"g":-1,"p":0.8,"q":0.5},
{"r":192,"s":"Marine","u":"Soil","a":-1.3,"b":-1,"c":-0.5,"d":-1.8,"e":-1.8,"f":-1,"g":-1,"p":0.62,"q":0.62},
{"r":193,"s":"Soil","u":"Soil","a":-1,"b":-1.3,"c":0.2,"d":-1.6,"e":-0.5,"f":0.9,"g":-1.2,"p":1,"q":0.5},
{"r":194,"s":"Soil","u":"Soil","a":-0.7,"b":-1,"c":0.1,"d":-1.7,"e":0.4,"f":0.9,"g":-1.3,"p":1,"q":0.5},
{"r":195,"s":"Soil","u":"Soil","a":-0.7,"b":-1,"c":0.2,"d":-1.7,"e":0.4,"f":1.3,"g":-1.3,"p":1,"q":0.62},
{"r":196,"s":"Soil","u":"Soil","a":-1,"b":-1.3,"c":1,"d":-1.7,"e":-0.5,"f":0.1,"g":-1,"p":1,"q":0.5},
{"r":197,"s":"Soil","u":"Soil","a":-0.5,"b":-0.7,"c":0.3,"d":-1.7,"e":-0.1,"f":0.4,"g":-1.3,"p":1,"q":0.5},
{"r":198,"s":"Soil","u":"Soil","a":-0.5,"b":-0.7,"c":0.1,"d":-1.7,"e":0.3,"f":0.7,"g":-1,"p":1,"q":0.5},
{"r":199,"s":"Soil","u":"Soil","a":-0.7,"b":-0.9,"c":0,"d":-1.7,"e":0.3,"f":0.7,"g":-1,"p":1,"q":0.5},
{"r":200,"s":"Soil","u":"Soil","a":-0.9,"b":-1.2,"c":1,"d":-1.8,"e":-0.1,"f":0.1,"g":-1,"p":0.62,"q":0.62},
{"r":201,"s":"Insect","u":"Soil","a":-0.7,"b":-1,"c":1,"d":-1.8,"e":0.4,"f":-1.3,"g":-0.8,"p":1,"q":0.62},
{"r":202,"s":"Soil","u":"Soil","a":-0.5,"b":-1,"c":1.6,"d":-1.6,"e":0,"f":-1,"g":-1,"p":1,"q":0.5},
{"r":203,"s":"Soil","u":"Soil","a":-0.8,"b":-1,"c":1,"d":-1.6,"e":-0.6,"f":-1.3,"g":-0.8,"p":1,"q":0.5},
{"r":204,"s":"Soil","u":"Soil","a":-1,"b":-1.1,"c":0.6,"d":-1.6,"e":-0.7,"f":-1.1,"g":-0.8,"p":1,"q":0.5}
]},
"resolve":{"scale":{"x":"independent","y":"independent","color":"independent"},"axis":{"x":"independent","y":"independent"},"legend":{"color":"independent"}},
"layer":[
{"data":{"name":"bars"},"mark":{"type":"bar"},"encoding":{
"x":{"field":"n","type":"quantitative","stack":"zero","scale":{"domain":[0,140],"range":[256.6,876.6],"nice":false},"axis":{"orient":"bottom","offset":-2087,"values":[0,25,50,75,100,125],"title":"Number of genomes","labelPadding":9,"titlePadding":13}},
"y":{"field":"env","type":"nominal","scale":{"domain":["Terrestrial","Host-associated","Aquatic","Mutagenesis","Air","Unknown"],"range":[10.8,205.2],"paddingInner":0.2,"paddingOuter":0.1},"axis":{"orient":"left","offset":-256.6,"title":null,"labelPadding":11,"labelOffset":2.5}},
"order":{"field":"k","type":"quantitative"},
"color":{"field":"src","type":"nominal","legend":null,"scale":{"domain":["Soil","Mine","Cave","Plant","Insect","Animal","Fungus","Sediment","Marine","Other","Mutagenesis","Air","Unknown"],"range":["#2083e8","#a0d0f5","#fd6515","#2bdd16","#86f06a","#ee0726","#f070a5","#7358de","#b3a8eb","#7f4249","#dd5be8","#6b7b78","#a2d10f"]}}}},
{"data":{"name":"frame"},"mark":{"type":"rect","filled":false,"stroke":"black","strokeWidth":3.4},"encoding":{"x":{"field":"a","type":"quantitative","scale":{"domain":[0,1],"range":[256.6,876.6],"nice":false},"axis":null},"x2":{"field":"b"},"y":{"field":"a","type":"quantitative","scale":{"domain":[0,1],"range":[5,212],"nice":false},"axis":null},"y2":{"field":"b"}}},
{"data":{"name":"key"},"layer":[
{"mark":{"type":"rect","width":48,"height":17},"encoding":{"x":{"field":"col","type":"quantitative","scale":{"domain":[0,3],"range":[30.4,665],"nice":false},"axis":null},"y":{"field":"row","type":"quantitative","scale":{"domain":[0,3],"range":[359,463.6],"nice":false},"axis":null},
"color":{"field":"src","type":"nominal","legend":null,"scale":{"domain":["Soil","Mine","Cave","Plant","Insect","Animal","Fungus","Sediment","Marine","Other","Mutagenesis","Air","Unknown"],"range":["#2083e8","#a0d0f5","#fd6515","#2bdd16","#86f06a","#ee0726","#f070a5","#7358de","#b3a8eb","#7f4249","#dd5be8","#6b7b78","#a2d10f"]}}}},
{"mark":{"type":"text","align":"left","baseline":"middle","dx":31.6,"fontSize":31.7,"font":"Liberation Sans","color":"black"},"encoding":{"x":{"field":"col","type":"quantitative","axis":null},"y":{"field":"row","type":"quantitative","axis":null},"text":{"field":"src"}}}]},
{"data":{"name":"rows"},"mark":{"type":"rect"},"encoding":{"x":{"datum":"Source","type":"nominal","scale":{"domain":["Source"],"range":[795.4,841.4],"paddingInner":0,"paddingOuter":0},"axis":null},"y":{"field":"r","type":"ordinal","scale":{"range":[544.2,2297],"paddingInner":0,"paddingOuter":0},"axis":null},
"color":{"field":"s","type":"nominal","legend":null,"scale":{"domain":["Soil","Mine","Cave","Plant","Insect","Animal","Fungus","Sediment","Marine","Other","Mutagenesis","Air","Unknown"],"range":["#2083e8","#a0d0f5","#fd6515","#2bdd16","#86f06a","#ee0726","#f070a5","#7358de","#b3a8eb","#7f4249","#dd5be8","#6b7b78","#a2d10f"]}}}},
{"data":{"name":"rows"},"mark":{"type":"rect"},"encoding":{"x":{"datum":"UMAP clusters","type":"nominal","scale":{"domain":["UMAP clusters"],"range":[923.2,963.2],"paddingInner":0,"paddingOuter":0},"axis":{"orient":"top","offset":-543,"title":null,"tickSize":13,"labelAngle":-74,"labelAlign":"left","labelBaseline":"middle","labelPadding":17,"labelOffset":11}},"y":{"field":"r","type":"ordinal","scale":{"range":[544.2,2297],"paddingInner":0,"paddingOuter":0},"axis":null},
"color":{"field":"u","type":"nominal","legend":null,"scale":{"domain":["Soil","Mine","Cave","Plant","Insect","Animal","Fungus","Sediment","Marine","Other","Mutagenesis","Air","Unknown"],"range":["#2083e8","#a0d0f5","#fd6515","#2bdd16","#86f06a","#ee0726","#f070a5","#7358de","#b3a8eb","#7f4249","#dd5be8","#6b7b78","#a2d10f"]}}}},
{"data":{"name":"rows"},"transform":[{"fold":["a","b","c","d","e","f","g"],"as":["k","v"]}],"mark":{"type":"rect"},"encoding":{"x":{"field":"k","type":"nominal","scale":{"domain":["a","b","c","d","e","f","g"],"range":[986.8,1306],"paddingInner":0,"paddingOuter":0},"axis":{"orient":"top","offset":-543,"title":null,"tickSize":13,"labelAngle":-74,"labelAlign":"left","labelBaseline":"middle","labelPadding":17,"labelOffset":11,"labelExpr":"{'a':'All CAZYmes','b':'Glycoside Hydrolases','c':'Glycosyl Transferases','d':'Carbohydrate-Binding Modules','e':'Carbohydrate Esterases','f':'Auxiliary Activities','g':'Polysaccharide Lyases'}[datum.label]"}},"y":{"field":"r","type":"ordinal","scale":{"range":[544.2,2297],"paddingInner":0,"paddingOuter":0},"axis":null},
"color":{"field":"v","type":"quantitative","scale":{"domain":[-2,-1.6,-1.2,-0.6,0,0.6,0.9,1.3,1.7,2],"range":["#0a1a66","#1030a0","#2f4b88","#4d6178","#6b7b75","#949d60","#a8ab55","#c5c540","#e8e62a","#f0ff1a"]},"legend":{"orient":"none","legendX":1326,"legendY":1250,"direction":"vertical","gradientLength":343,"gradientThickness":28,"gradientStrokeColor":"black","gradientStrokeWidth":3,"title":null,"labelOpacity":0,"padding":0}}}},
{"data":{"name":"rows"},"transform":[{"fold":["p","q"],"as":["k","v"]}],"mark":{"type":"rect"},"encoding":{"x":{"field":"k","type":"nominal","scale":{"domain":["p","q"],"range":[1513.4,1605],"paddingInner":0,"paddingOuter":0},"axis":{"orient":"top","offset":-543,"title":null,"tickSize":13,"labelAngle":-74,"labelAlign":"left","labelBaseline":"middle","labelPadding":17,"labelOffset":11,"labelExpr":"{'p':'Protocatechuate','q':'Catechol'}[datum.label]"}},"y":{"field":"r","type":"ordinal","scale":{"range":[544.2,2297],"paddingInner":0,"paddingOuter":0},"axis":null},
"color":{"field":"v","type":"quantitative","scale":{"domain":[0,0.2,0.37,0.5,0.62,0.75,0.85,1],"range":["#0a1a66","#1030a0","#4d6178","#6b7b75","#949d60","#c5c540","#e0e030","#f0ff1a"]},"legend":{"orient":"none","legendX":1626,"legendY":1250,"direction":"vertical","gradientLength":343,"gradientThickness":26,"gradientStrokeColor":"black","gradientStrokeWidth":3,"title":null,"labelOpacity":0,"padding":0}}}},
{"data":{"name":"zt"},"mark":{"type":"point","opacity":0},"encoding":{"y":{"field":"z","type":"quantitative","scale":{"domain":[-2,-1,0,1,2],"range":[1587,1507,1421,1336,1244],"nice":false,"zero":false},"axis":{"orient":"right","offset":-655,"values":[-2,-1,0,1,2],"format":"d","title":"Z-score","titleAngle":270,"titleAlign":"center","titleBaseline":"middle","titleX":102,"titleY":1420,"tickSize":13,"tickWidth":3,"labelPadding":15,"labelOffset":1.5}}}},
{"data":{"name":"ct"},"mark":{"type":"point","opacity":0},"encoding":{"y":{"field":"c","type":"quantitative","scale":{"domain":[0,0.2,0.4,0.6,0.8,1],"range":[1592,1524,1455.7,1386.7,1318.7,1264],"nice":false,"zero":false},"axis":{"orient":"right","offset":-357,"values":[0,0.2,0.4,0.6,0.8,1],"format":".1f","title":"Completeness","titleAngle":270,"titleAlign":"center","titleBaseline":"middle","titleX":108,"titleY":1432,"tickSize":14,"tickWidth":3,"labelPadding":14,"labelOffset":1.5}}}},
{"layer":[
{"data":{"name":"hs"},"mark":{"type":"rule","stroke":"#111","strokeWidth":1.9},"encoding":{"x":{"field":"a","type":"quantitative","scale":{"domain":[0,1568],"range":[0,780],"nice":false,"zero":false},"axis":null},"x2":{"field":"b"},"y":{"field":"y","type":"quantitative","scale":{"domain":[0,1568],"range":[530,1130],"nice":false,"zero":false},"axis":null}}},
{"data":{"name":"vs"},"mark":{"type":"rule","stroke":"#111","strokeWidth":1.9},"encoding":{"x":{"field":"x","type":"quantitative","axis":null},"y":{"field":"c","type":"quantitative","axis":null},"y2":{"field":"d"}}},
{"data":{"name":"boxes"},"mark":{"type":"rect","filled":false,"stroke":"#ee1133","strokeWidth":2},"encoding":{"x":{"field":"x","type":"quantitative","axis":null},"x2":{"field":"x2"},"y":{"field":"y","type":"quantitative","axis":null},"y2":{"field":"y2"}}},
{"data":{"name":"notes"},"mark":{"type":"text","baseline":"middle","align":"center","fontSize":31.7,"font":"Liberation Sans","color":"black"},"encoding":{"x":{"field":"x","type":"quantitative","axis":null},"y":{"field":"y","type":"quantitative","axis":null},"text":{"field":"t"}}},
{"data":{"name":"plain"},"mark":{"type":"text","baseline":"middle","align":"left","fontSize":31.7,"font":"Liberation Sans","color":"black"},"encoding":{"x":{"field":"x","type":"quantitative","axis":null},"y":{"field":"y","type":"quantitative","axis":null},"text":{"field":"t"}}},
{"data":{"name":"ital"},"mark":{"type":"text","align":"left","baseline":"middle","fontSize":31.7,"fontStyle":"italic","font":"Liberation Sans","color":"black"},"encoding":{"x":{"field":"x","type":"quantitative","axis":null},"y":{"field":"y","type":"quantitative","axis":null},"text":{"field":"t"}}}
]}
]}
